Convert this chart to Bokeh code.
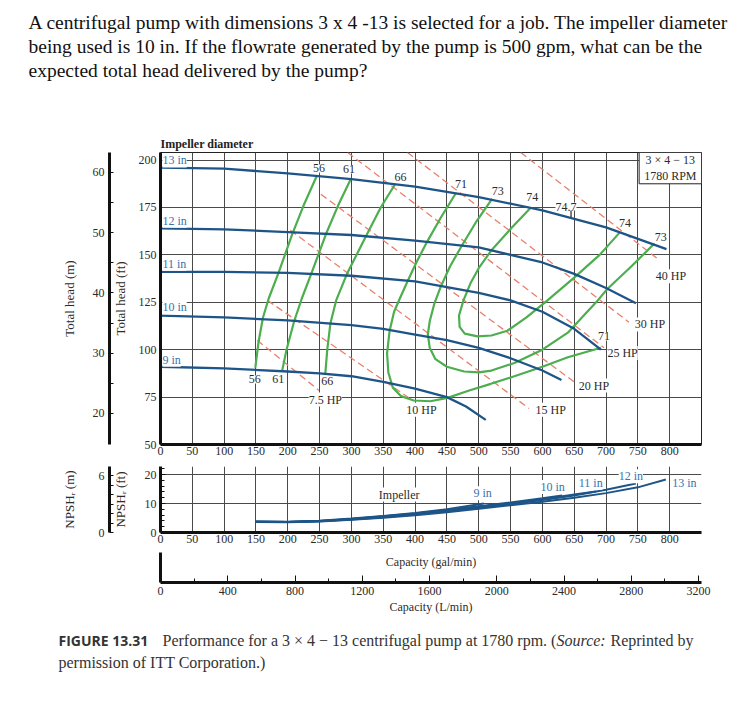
from bokeh.plotting import figure
from bokeh.layouts import column
from bokeh.models import Range1d, LinearAxis, Label, FixedTicker
from bokeh.embed import file_html
from bokeh.resources import INLINE

# ---------------- texts ----------------
question_lines = [
    "A centrifugal pump with dimensions 3 x 4 -13 is selected for a job. The impeller diameter",
    "being used is 10 in. If the flowrate generated by the pump is 500 gpm, what can be the",
    "expected total head delivered by the pump?",
]
caption_tag = "FIGURE 13.31"
caption_main = "Performance for a 3 \u00d7 4 \u2212 13 centrifugal pump at 1780 rpm. ("
caption_src = "Source:"
caption_rest = "Reprinted by"
caption_line2 = "permission of ITT Corporation.)"
pump_box_lines = ["3 \u00d7 4 \u2212 13", "1780 RPM"]

# ---------------- axes / ticks ----------------
gpm_ticks = list(range(0, 801, 50))
gpm_grid = list(range(0, 851, 50))
ft_ticks = [50, 75, 100, 125, 150, 175, 200]
m_ticks = [20, 30, 40, 50, 60]
m_minor = [25, 35, 45, 55]
npsh_ft_ticks = [0, 10, 20]
npsh_ft_minor = [2, 4, 6, 8, 12, 14, 16, 18, 22]
npsh_m_ticks = [0, 6]
npsh_m_minor = [1, 2, 3, 4, 5]
lpm_ticks = [0, 400, 800, 1200, 1600, 2000, 2400, 2800, 3200]
lpm_minor = [200, 600, 1000, 1400, 1800, 2200, 2600, 3000]
LPM_PER_GPM = 3.785411784

# ---------------- head curves (gpm, ft) ----------------
impellers = ["13 in", "12 in", "11 in", "10 in", "9 in"]
head_13_q = [0, 100, 200, 300, 400, 500, 600, 700, 795]
head_13_h = [196, 195.5, 193, 190, 186, 180.5, 173.5, 164.5, 153]
head_12_q = [0, 100, 200, 300, 400, 500, 600, 650, 700, 747]
head_12_h = [164, 163.5, 162, 160.5, 157.5, 154, 146, 140, 132.5, 124.5]
head_11_q = [0, 100, 200, 300, 400, 500, 550, 600, 650, 692]
head_11_h = [141, 141, 140.5, 139, 136, 130, 126, 120, 111, 100]
head_10_q = [0, 100, 200, 300, 350, 400, 450, 500, 550, 600, 630]
head_10_h = [118, 117, 115.5, 113, 111, 108, 105, 101, 95.5, 89, 84]
head_9_q = [0, 100, 200, 250, 300, 350, 400, 450, 480, 511]
head_9_h = [91, 90.2, 88.5, 87.5, 86, 83, 79.5, 75, 70, 63]
impeller_label_q = [3, 3, 3, 3, 3]
impeller_label_h = [199.8, 168, 145.3, 122.4, 94.7]

# ---------------- efficiency curves (gpm, ft) ----------------
eff_56_q = [149, 154, 161, 170, 186, 207, 226, 246]
eff_56_h = [90.5, 104, 117, 127, 141, 161, 177, 192]
eff_61_q = [191, 198, 210, 222, 238, 260, 279, 299]
eff_61_h = [88.7, 100, 115, 127, 141, 161, 176, 190]
eff_66_q = [259, 262, 267, 276, 293, 323, 346, 369]
eff_66_h = [87.5, 100, 114, 126, 140, 160, 175, 187.5]
eff_71_q = [464, 441, 419, 402, 388, 376, 367, 360, 356, 358, 365, 378, 398, 424, 451, 485, 519, 556, 600, 640, 692]
eff_71_h = [182.5, 170, 157, 146, 136, 127, 120, 110, 98, 88, 80, 75.5, 73.2, 72.8, 74.6, 78.5, 82, 86, 91, 96, 101]
eff_73_q = [521, 497, 472, 455, 440, 430, 423, 420, 423, 432, 450, 477, 500, 520, 556, 600, 640, 665, 687, 702, 740, 776]
eff_73_h = [179.5, 168, 154, 144, 133, 124, 115, 108, 101, 95, 91, 88.5, 88, 89, 93, 100, 109, 118, 126, 132, 144, 156]
eff_74_q = [582, 551, 519, 500, 487, 476, 469, 470, 478, 498, 520, 545, 575, 608, 650, 690, 722]
eff_74_h = [175, 164, 152, 143, 135, 126, 118, 112, 108.5, 107, 107.5, 110, 117, 126, 138, 150, 162]
peak_q = [645, 645]
peak_h = [169.8, 174.0]

eff_labels = ["56", "61", "66", "71", "73", "74", "74.7", "74", "73", "56", "61", "66", "71"]
eff_label_q = [249, 296, 377, 472, 530, 584, 637, 730, 786, 148, 185, 262, 697]
eff_label_h = [195.6, 195.1, 191.2, 187.2, 183.8, 180.6, 175.5, 166.9, 159.5, 84.3, 84.3, 83.4, 107]

# ---------------- power lines (gpm, ft) ----------------
hp_labels = ["7.5 HP", "10 HP", "15 HP", "20 HP", "25 HP", "30 HP", "40 HP"]
hp_q_start = [152, 168, 204, 252, 294, 388, 566]
hp_h_start = [105, 126, 163, 182, 204, 204, 204]
hp_q_end = [249, 393, 579, 650, 697, 736, 781]
hp_h_end = [78.5, 74, 69, 83, 101, 114.5, 148]
hp_label_q = [259, 410, 613, 681, 726, 769, 802]
hp_label_h = [73.7, 68.3, 68.3, 81.1, 98.2, 113.3, 138.8]

# ---------------- NPSH curves (gpm, ft) ----------------
npsh_9_q = [150, 200, 250, 300, 350, 400, 450, 508]
npsh_9_h = [3.8, 3.7, 4.1, 4.8, 5.7, 6.7, 8.0, 10.0]
npsh_10_q = [150, 200, 250, 300, 350, 400, 450, 500, 550, 600, 631]
npsh_10_h = [3.7, 3.6, 4.0, 4.7, 5.6, 6.6, 7.8, 9.1, 10.4, 11.8, 12.8]
npsh_11_q = [150, 200, 250, 300, 350, 400, 450, 500, 550, 600, 650, 684]
npsh_11_h = [3.7, 3.6, 4.0, 4.6, 5.5, 6.4, 7.6, 8.8, 10.1, 11.5, 13.1, 14.2]
npsh_12_q = [150, 200, 250, 300, 350, 400, 450, 500, 550, 600, 650, 700, 747]
npsh_12_h = [3.7, 3.6, 3.9, 4.5, 5.3, 6.2, 7.3, 8.5, 9.8, 11.2, 12.8, 14.8, 16.9]
npsh_13_q = [150, 200, 250, 300, 350, 400, 450, 500, 550, 600, 650, 700, 750, 794]
npsh_13_h = [3.6, 3.5, 3.8, 4.4, 5.1, 6.0, 7.0, 8.2, 9.4, 10.6, 12.0, 13.6, 15.6, 18.3]
npsh_labels = ["9 in", "10 in", "11 in", "12 in", "13 in"]
npsh_label_q = [506, 616, 676, 739, 823]
npsh_label_h = [13.6, 15.7, 17.2, 19.4, 17.2]

# ---------------- style ----------------
W = 733
LB, RB = 160, 32
SERIF = "Liberation Serif"
BLUE_LINE = "#1e5588"
BLUE_TEXT = "#3a72ad"
GREEN = "#4cae4f"
RED = "#e8806c"
GRID = "#4a4a4a"
TEXT = "#2b2b2b"


def base_fig(height, xr, yr, top, bottom, left=LB, right=RB, title=None, axes=True):
    kw = {}
    if not axes:
        kw = dict(x_axis_location=None, y_axis_location=None)
    f = figure(width=W, height=height, x_range=xr, y_range=yr,
               output_backend="svg", toolbar_location=None, tools="",
               min_border_left=left, min_border_right=right,
               min_border_top=top, min_border_bottom=bottom, title=title, **kw)
    f.background_fill_color = "white"
    f.border_fill_color = "white"
    return f


def style_axis(ax, size="12px"):
    ax.major_label_text_font = SERIF
    ax.major_label_text_font_size = size
    ax.major_label_text_color = TEXT
    ax.axis_label_text_font = SERIF
    ax.axis_label_text_font_size = "13px"
    ax.axis_label_text_font_style = "normal"
    ax.axis_label_text_color = TEXT
    ax.axis_line_color = "#111111"
    ax.major_tick_line_color = "#111111"
    ax.minor_tick_line_color = "#111111"


def add_label(fig, x, y, text, color=TEXT, size="12px", align="center",
              bg="white", font=SERIF, style="normal", baseline="middle", **kw):
    fig.add_layout(Label(x=x, y=y, text=text, text_color=color, text_font=font,
                         text_font_size=size, text_align=align, text_baseline=baseline,
                         text_font_style=style, background_fill_color=bg, **kw))


# ================= question text =================
QH = 128
pq = base_fig(QH, Range1d(0, W), Range1d(0, QH), 0, 0, 0, 0, axes=False)
pq.frame_align = False
pq.grid.visible = False
pq.outline_line_color = None
for i, line in enumerate(question_lines):
    add_label(pq, 28, QH - 22 - 24 * i, line, color="#111111", size="19.5px", align="left", bg=None)

# ================= main performance chart =================
p = base_fig(334, Range1d(0, 850), Range1d(50, 204), top=24, bottom=18, title="Impeller diameter")
p.title.text_font = SERIF
p.title.text_font_size = "12px"
p.title.text_font_style = "bold"
p.title.text_color = "#222222"
p.title.align = "left"
p.title.offset = 0
p.title.standoff = 3
p.outline_line_color = "#222222"
p.outline_line_width = 1

p.xaxis.ticker = FixedTicker(ticks=gpm_ticks)
p.xaxis.axis_line_width = 3
p.xaxis.major_tick_out = 0
p.xaxis.major_tick_in = 0
p.xaxis.minor_tick_out = 0
p.xaxis.major_label_standoff = 2
style_axis(p.xaxis[0])

p.yaxis.ticker = FixedTicker(ticks=ft_ticks)
p.yaxis.axis_line_width = 3
p.yaxis.major_tick_out = 0
p.yaxis.major_tick_in = 0
p.yaxis.minor_tick_out = 0
p.yaxis.major_label_standoff = 4
p.yaxis.axis_label = "Total head (ft)"
p.yaxis.axis_label_standoff = 8
style_axis(p.yaxis[0])

p.extra_y_ranges = {"m": Range1d(14.86, 63.27)}
spacer = LinearAxis(y_range_name="m", ticker=FixedTicker(ticks=[]), axis_line_color=None,
                    major_tick_out=19, major_tick_in=0, minor_tick_out=0, minor_tick_in=0,
                    major_tick_line_color=None, minor_tick_line_color=None)
p.add_layout(spacer, "left")
m_axis = LinearAxis(y_range_name="m", ticker=FixedTicker(ticks=m_ticks, minor_ticks=m_minor),
                    axis_label="Total head (m)", axis_line_width=3,
                    major_tick_in=4, major_tick_out=0, minor_tick_in=4, minor_tick_out=0,
                    major_label_standoff=5, axis_label_standoff=13)
style_axis(m_axis)
p.add_layout(m_axis, "left")

p.xgrid.ticker = FixedTicker(ticks=gpm_grid)
p.ygrid.ticker = FixedTicker(ticks=ft_ticks)
for g in (p.xgrid[0], p.ygrid[0]):
    g.grid_line_color = GRID
    g.grid_line_width = 1

# power lines
p.multi_line(xs=[[a, b] for a, b in zip(hp_q_start, hp_q_end)],
             ys=[[a, b] for a, b in zip(hp_h_start, hp_h_end)],
             line_color=RED, line_width=1.3, line_dash="7 4")
# efficiency curves
p.multi_line(xs=[eff_56_q, eff_61_q, eff_66_q, eff_71_q, eff_73_q, eff_74_q],
             ys=[eff_56_h, eff_61_h, eff_66_h, eff_71_h, eff_73_h, eff_74_h],
             line_color=GREEN, line_width=2.2)
# head curves
p.multi_line(xs=[head_13_q, head_12_q, head_11_q, head_10_q, head_9_q],
             ys=[head_13_h, head_12_h, head_11_h, head_10_h, head_9_h],
             line_color=BLUE_LINE, line_width=2.3)
p.line(peak_q, peak_h, line_color="#222222", line_width=1.2)

# pump designation box
p.quad(left=[752], right=[850], top=[204], bottom=[187.5],
       fill_color="white", line_color="#222222", line_width=1)
add_label(p, 801, 200.3, pump_box_lines[0], size="12px", bg=None)
add_label(p, 801, 191.4, pump_box_lines[1], size="12px", bg=None)

for t, x, y in zip(impellers, impeller_label_q, impeller_label_h):
    add_label(p, x, y, t, color=BLUE_TEXT, size="12px", align="left")
for t, x, y in zip(eff_labels, eff_label_q, eff_label_h):
    add_label(p, x, y, t, size="12px")
for t, x, y in zip(hp_labels, hp_label_q, hp_label_h):
    add_label(p, x, y, t, size="12px")

# ================= NPSH chart =================
pn = base_fig(89, Range1d(0, 850), Range1d(0, 22.8), top=4, bottom=19)
pn.outline_line_color = None
pn.xaxis.ticker = FixedTicker(ticks=gpm_ticks)
pn.xaxis.axis_line_width = 3
pn.xaxis.major_tick_out = 0
pn.xaxis.major_tick_in = 0
pn.xaxis.minor_tick_out = 0
pn.xaxis.major_label_standoff = 2
style_axis(pn.xaxis[0])

pn.yaxis.ticker = FixedTicker(ticks=npsh_ft_ticks, minor_ticks=npsh_ft_minor)
pn.yaxis.axis_line_width = 3
pn.yaxis.major_tick_out = 0
pn.yaxis.major_tick_in = 5
pn.yaxis.minor_tick_out = 0
pn.yaxis.minor_tick_in = 4
pn.yaxis.major_label_standoff = 4
pn.yaxis.axis_label = "NPSH\u1d63 (ft)"
pn.yaxis.axis_label_standoff = 14
style_axis(pn.yaxis[0])

pn.extra_y_ranges = {"m": Range1d(0, 6.96)}
spacer2 = LinearAxis(y_range_name="m", ticker=FixedTicker(ticks=[]), axis_line_color=None,
                     major_tick_out=20, major_tick_in=0, minor_tick_out=0, minor_tick_in=0,
                     major_tick_line_color=None, minor_tick_line_color=None)
pn.add_layout(spacer2, "left")
nm_axis = LinearAxis(y_range_name="m", ticker=FixedTicker(ticks=npsh_m_ticks, minor_ticks=npsh_m_minor),
                     axis_label="NPSH\u1d63 (m)", axis_line_width=3,
                     major_tick_in=4, major_tick_out=0, minor_tick_in=4, minor_tick_out=0,
                     major_label_standoff=5, axis_label_standoff=19)
style_axis(nm_axis)
pn.add_layout(nm_axis, "left")

pn.xgrid.ticker = FixedTicker(ticks=gpm_grid)
pn.ygrid.ticker = FixedTicker(ticks=[10, 20])
for g in (pn.xgrid[0], pn.ygrid[0]):
    g.grid_line_color = GRID
    g.grid_line_width = 1

pn.multi_line(xs=[npsh_9_q, npsh_10_q, npsh_11_q, npsh_12_q, npsh_13_q],
              ys=[npsh_9_h, npsh_10_h, npsh_11_h, npsh_12_h, npsh_13_h],
              line_color=BLUE_LINE, line_width=2)
add_label(pn, 375, 13.1, "Impeller", size="12px")
for t, x, y in zip(npsh_labels, npsh_label_q, npsh_label_h):
    add_label(pn, x, y, t, color=BLUE_TEXT, size="12px")

# ================= L/min axis =================
pl = base_fig(69, Range1d(0, 850 * LPM_PER_GPM), Range1d(0, 1), top=1, bottom=38)
pl.outline_line_color = None
pl.grid.visible = False
pl.xaxis.ticker = FixedTicker(ticks=lpm_ticks, minor_ticks=lpm_minor)
pl.xaxis.axis_line_width = 3
pl.xaxis.major_tick_out = 0
pl.xaxis.major_tick_in = 7
pl.xaxis.minor_tick_out = 0
pl.xaxis.minor_tick_in = 4
pl.xaxis.major_label_standoff = 4
pl.xaxis.axis_label = "Capacity (L/min)"
pl.xaxis.axis_label_standoff = 2
style_axis(pl.xaxis[0])
pl.xaxis.axis_label_text_font_size = "12px"
pl.yaxis.ticker = FixedTicker(ticks=[])
pl.yaxis.axis_line_width = 3
pl.yaxis.axis_line_color = "#111111"
pl.yaxis.major_tick_out = 0
pl.yaxis.minor_tick_out = 0
add_label(pl, 425 * LPM_PER_GPM, 0.667, "Capacity (gal/min)", size="12px", bg=None)

# ================= caption =================
CH = 88
pc = base_fig(CH, Range1d(0, W), Range1d(0, CH), 0, 0, 0, 0, axes=False)
pc.frame_align = False
pc.grid.visible = False
pc.outline_line_color = None
add_label(pc, 58, CH - 20, caption_tag, color="#333333", size="14px", font="Open Sans", style="bold",
          align="left", bg=None)
add_label(pc, 162, CH - 20, caption_main, color="#333333", size="16px", align="left", bg=None)
add_label(pc, 556, CH - 20, caption_src, color="#333333", size="16px", style="italic", align="left", bg=None)
add_label(pc, 610, CH - 20, caption_rest, color="#333333", size="16px", align="left", bg=None)
add_label(pc, 58, CH - 42, caption_line2, color="#333333", size="16px", align="left", bg=None)

layout = column(pq, p, pn, pl, pc)
open("out.html", "w").write(file_html(layout, INLINE))
